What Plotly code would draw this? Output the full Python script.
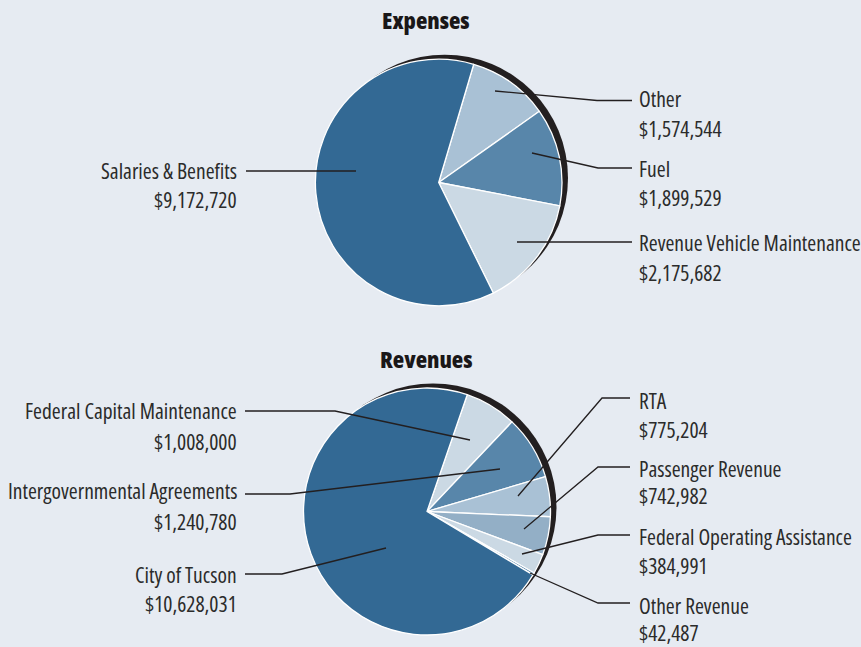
import plotly.graph_objects as go

# ---------------- data ----------------
exp_labels = ["Other", "Fuel", "Revenue Vehicle Maintenance", "Salaries & Benefits"]
exp_values = [1574544, 1899529, 2175682, 9172720]

rev_labels = ["Federal Capital Maintenance", "Intergovernmental Agreements", "RTA",
              "Passenger Revenue", "Federal Operating Assistance", "Other Revenue",
              "City of Tucson"]
rev_values = [1008000, 1240780, 775204, 742982, 384991, 42487, 10628031]

titles = ["Expenses", "Revenues"]

# ---------------- styles / layout ----------------
W, H = 861, 647
BG = "#e6ebf2"
TXT = "#2b2b2b"
LINE = "#231f20"
FONT = "Open Sans, Roboto, sans-serif"
NARROW = "font-stretch:75%"

exp_colors = ["#a9c1d5", "#5886aa", "#cbd9e4", "#336994"]
rev_colors = ["#cbd9e4", "#5886aa", "#a9c1d5", "#93afc6", "#cbd9e4", "#4a7ba3", "#336994"]


def px(x):
    return x / W


def py(y):
    return 1 - y / H


def dom(cx, cy, r):
    return dict(x=[px(cx - r), px(cx + r)], y=[py(cy + r), py(cy - r)])


pie1 = dict(cx=438.7, cy=182.5, r=123.3)
pie2 = dict(cx=427.0, cy=511.5, r=123.5)

fig = go.Figure()
fig.add_trace(go.Pie(labels=exp_labels, values=exp_values, sort=False,
                     direction="clockwise", rotation=16.5,
                     marker=dict(colors=exp_colors, line=dict(color="white", width=1.3)),
                     textinfo="none", hoverinfo="label+value", showlegend=False,
                     domain=dom(**pie1)))
fig.add_trace(go.Pie(labels=rev_labels, values=rev_values, sort=False,
                     direction="clockwise", rotation=19,
                     marker=dict(colors=rev_colors, line=dict(color="white", width=1.3)),
                     textinfo="none", hoverinfo="label+value", showlegend=False,
                     domain=dom(**pie2)))

shapes = []
# dark shadow crescents behind the pies
for p in (pie1, pie2):
    cx, cy, r = p["cx"] + 6, p["cy"] - 4.5, p["r"]
    shapes.append(dict(type="circle", xref="paper", yref="paper", layer="below",
                       x0=px(cx - r), x1=px(cx + r), y0=py(cy + r), y1=py(cy - r),
                       fillcolor=LINE, line=dict(width=0)))


def leader(pts):
    d = "M " + " L ".join(f"{px(x)},{py(y)}" for x, y in pts)
    shapes.append(dict(type="path", xref="paper", yref="paper", layer="above",
                       path=d, line=dict(color=LINE, width=1.3)))


# leader lines (pixel positions)
exp_leaders = {
    "Other": [(495, 91), (597, 100.5), (632, 100.5)],
    "Fuel": [(532, 153), (598, 168), (632, 168)],
    "Revenue Vehicle Maintenance": [(517, 242), (632, 242)],
    "Salaries & Benefits": [(246, 171), (356, 171)],
}
rev_leaders = {
    "Federal Capital Maintenance": [(245, 411), (335, 411), (470, 440)],
    "Intergovernmental Agreements": [(245, 494), (290, 494), (500, 469)],
    "City of Tucson": [(245, 574), (282, 574), (386, 548)],
    "RTA": [(518, 496), (602, 398), (630, 398)],
    "Passenger Revenue": [(524, 529), (598, 467), (630, 467)],
    "Federal Operating Assistance": [(522, 554), (598, 535), (630, 535)],
    "Other Revenue": [(530, 573), (598, 603), (630, 603)],
}
for pts in list(exp_leaders.values()) + list(rev_leaders.values()):
    leader(pts)

# label positions: (x, y_name, y_value, side)
exp_pos = {
    "Other": (637, 98, 128, "left"),
    "Fuel": (637, 168, 198, "left"),
    "Revenue Vehicle Maintenance": (637, 243, 272, "left"),
    "Salaries & Benefits": (239, 170, 199, "right"),
}
rev_pos = {
    "Federal Capital Maintenance": (239, 410, 441, "right"),
    "Intergovernmental Agreements": (239, 490, 521, "right"),
    "City of Tucson": (239, 574, 603, "right"),
    "RTA": (637, 400, 429, "left"),
    "Passenger Revenue": (637, 468, 496, "left"),
    "Federal Operating Assistance": (637, 536, 565, "left"),
    "Other Revenue": (637, 605, 632, "left"),
}

annotations = []


def add_label(name, value, pos):
    x, y1, y2, side = pos
    for txt, y in ((name, y1), (f"${value:,}", y2)):
        annotations.append(dict(text=f"<span style='{NARROW}'>{txt}</span>",
                                x=px(x), y=py(y), xref="paper", yref="paper",
                                xanchor=side, yanchor="middle", showarrow=False,
                                font=dict(family=FONT, size=21.5, color=TXT)))


for n, v in zip(exp_labels, exp_values):
    add_label(n, v, exp_pos[n])
for n, v in zip(rev_labels, rev_values):
    add_label(n, v, rev_pos[n])

for t, y in zip(titles, (20, 359)):
    annotations.append(dict(text=f"<span style='{NARROW}'>{t}</span>",
                            x=px(426), y=py(y), xref="paper", yref="paper",
                            xanchor="center", yanchor="middle", showarrow=False,
                            font=dict(family=FONT, size=23.5, color="#1a1718", weight=800)))

fig.update_layout(width=W, height=H, margin=dict(l=0, r=0, t=0, b=0),
                  paper_bgcolor=BG, plot_bgcolor=BG,
                  shapes=shapes, annotations=annotations)

fig.write_html("out.html")
